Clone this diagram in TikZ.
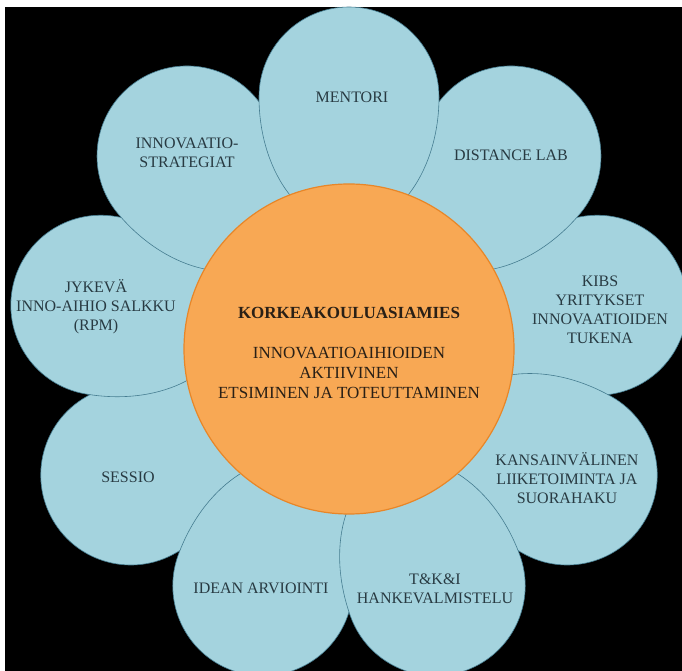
\documentclass[tikz,border=0pt]{standalone}
\usepackage{fontspec}
\setmainfont{Liberation Serif}
\definecolor{petalblue}{RGB}{164,211,222}
\definecolor{petaledge}{RGB}{70,125,145}
\definecolor{petaltext}{RGB}{40,58,66}
\definecolor{orangefill}{RGB}{248,168,84}
\definecolor{orangeedge}{RGB}{232,134,40}
\definecolor{centertext}{RGB}{42,32,22}
\begin{document}
\begin{tikzpicture}[x=1pt,y=1pt,
  petal/.style={fill=petalblue, draw=petaledge, line width=0.6pt},
  ptext/.style={align=center, text=petaltext, inner sep=0pt, font=\fontsize{16}{19}\selectfont},
  ctext/.style={align=center, text=centertext, inner sep=0pt, font=\fontsize{17}{20}\selectfont},
  hubstyle/.style={circle, minimum size=330pt, inner sep=0pt, fill=orangefill, draw=orangeedge, line width=1.2pt}]
\useasboundingbox (0,0) rectangle (682,671);
\fill[white] (0,0) rectangle (682,671);
\fill[black] (5,0) rectangle (682,664);
\coordinate (O) at (349,322);
\begin{scope}
\clip (5,0) rectangle (682,664);
\foreach \ang in {10,330,210,170,130,50,250,290,90}{
  \begin{scope}[shift={(O)}, rotate=\ang]
    \filldraw[petal] (252,90) arc[start angle=90, end angle=-90, radius=90]
      arc[start angle=-90, end angle=-270, x radius=130, y radius=90] -- cycle;
  \end{scope}
}
\node[hubstyle] (hub) at (O) {};
\end{scope}
\node[ptext] (mentori) at (352,574) {MENTORI};
\node[ptext] (strat) at (187,518) {INNOVAATIO-\\STRATEGIAT};
\node[ptext] (distlab) at (511,516) {DISTANCE LAB};
\node[ptext] (kibs) at (600,361) {KIBS\\YRITYKSET\\INNOVAATIOIDEN\\TUKENA};
\node[ptext] (kans) at (567,193) {KANSAINVÄLINEN\\LIIKETOIMINTA JA\\SUORAHAKU};
\node[ptext] (tki) at (435,82) {T\&K\&I\\HANKEVALMISTELU};
\node[ptext] (idean) at (261,83) {IDEAN ARVIOINTI};
\node[ptext] (sessio) at (128,194) {SESSIO};
\node[ptext] (jykeva) at (96,364) {JYKEVÄ\\INNO-AIHIO SALKKU\\(RPM)};
\node[ctext, font=\fontsize{17}{20}\selectfont\bfseries] (hubtitle) at (349,358) {KORKEAKOULUASIAMIES};
\node[ctext] (hubtext) at (349,298) {INNOVAATIOAIHIOIDEN\\AKTIIVINEN\\ETSIMINEN JA TOTEUTTAMINEN};
\end{tikzpicture}
\end{document}
